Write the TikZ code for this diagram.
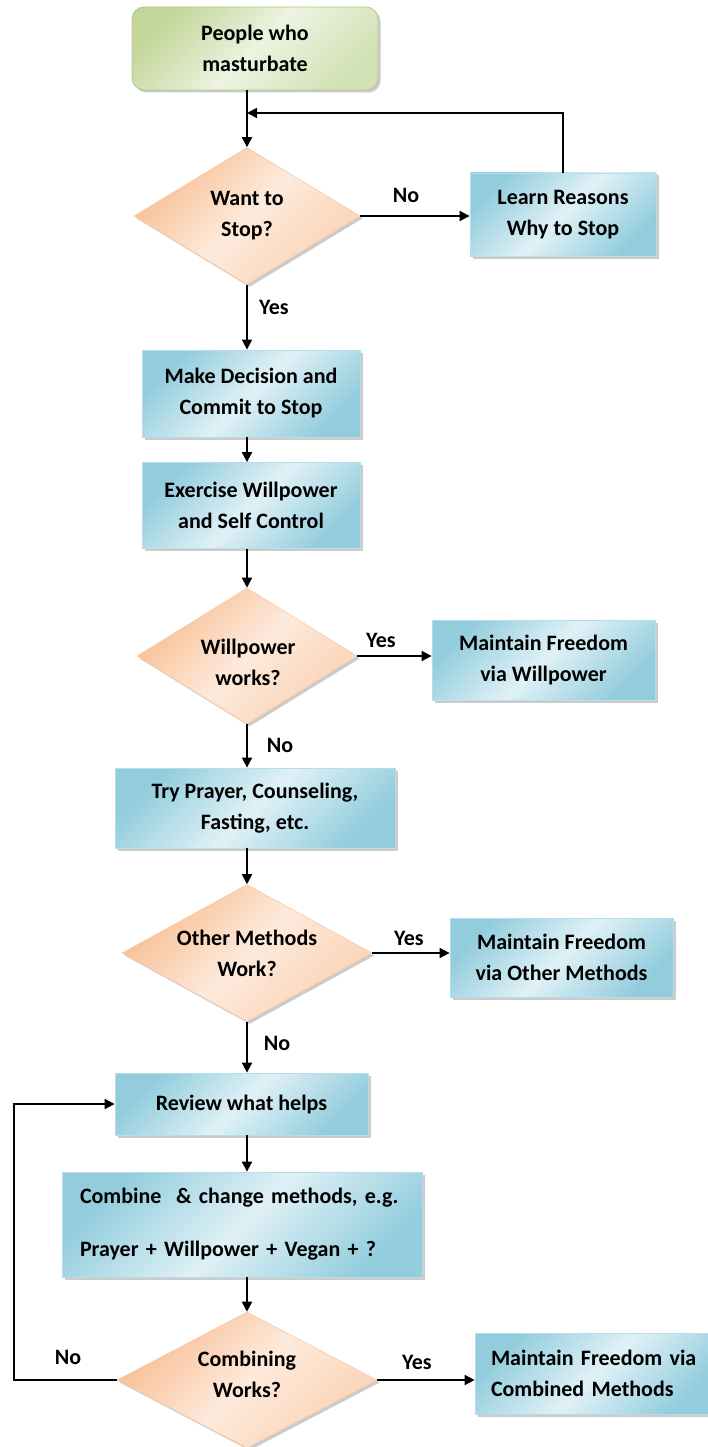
\documentclass[tikz,border=0pt]{standalone}
\usepackage{fontspec}
\setmainfont{Carlito}
\usetikzlibrary{shapes.geometric,arrows.meta,shadows}
\definecolor{bluedark}{HTML}{93CDDD}
\definecolor{bluelight}{HTML}{E0F1F6}
\definecolor{blueedge}{HTML}{B7DEE8}
\definecolor{peachdark}{HTML}{F8BE92}
\definecolor{peachmid}{HTML}{FBD3B5}
\definecolor{peachlight}{HTML}{FDEADC}
\definecolor{peachedge}{HTML}{F9CBA8}
\definecolor{greendark}{HTML}{C3D69B}
\definecolor{greenmid}{HTML}{D3E2B6}
\definecolor{greenlight}{HTML}{EDF3E1}
\definecolor{greenedge}{HTML}{B3C98A}
\begin{document}
\begin{tikzpicture}[x=1pt,y=-1pt,
  every node/.style={font=\fontsize{22}{31}\selectfont\bfseries},
  shadowed/.style={drop shadow={shadow xshift=2.5pt,shadow yshift=-2.5pt,fill=black!45,opacity=0.45}},
  bluebox/.style={shadowed, draw=blueedge, line width=0.8pt, left color=bluedark, right color=bluedark, middle color=bluelight, shading angle=45, inner sep=0pt, align=center},
  startbox/.style={shadowed, draw=greenedge, line width=0.8pt, rounded corners=12pt, left color=greendark, right color=greenmid, middle color=greenlight, shading angle=45, inner sep=0pt, align=center},
  dia/.style={shadowed, shape=diamond, draw=peachedge, line width=0.6pt, left color=peachdark, right color=peachmid, middle color=peachlight, shading angle=45, inner sep=0pt},
  dtext/.style={align=center, inner sep=0pt},
  lbl/.style={inner sep=0pt},
  arr/.style={line width=1.8pt, -{Triangle[length=10pt,width=10pt]}}
]
\useasboundingbox (0,0) rectangle (708,1447);
\fill[white] (0,0) rectangle (708,1447);
\coordinate (col) at (247,0);
\coordinate (lp) at (14,0);
\coordinate (fb) at (247,113);

\node[startbox, minimum width=246pt, minimum height=83pt] (start) at (255,48.5) {People who\\masturbate};

\node[dia, minimum width=226pt, minimum height=137pt] (d1) at (247,216) {};
\node[dtext] (d1t) at (d1) {Want to\\Stop?};

\node[bluebox, minimum width=186pt, minimum height=83pt] (learn) at (563,214.5) {Learn Reasons\\Why to Stop};

\node[bluebox, minimum width=218pt, minimum height=87pt] (make) at (251,393.5) {Make Decision and\\Commit to Stop};
\node[bluebox, minimum width=218pt, minimum height=86pt] (exer) at (251,505.5) {Exercise Willpower\\and Self Control};

\node[dia, minimum width=220pt, minimum height=136pt] (d2) at (247,656) {};
\node[dtext] (d2t) at (248,662) {Willpower\\works?};

\node[bluebox, minimum width=223pt, minimum height=80pt] (mw) at (543.5,660) {Maintain Freedom\\via Willpower};

\node[bluebox, minimum width=280pt, minimum height=80pt] (try) at (255,808) {Try Prayer, Counseling,\\Fasting, etc.};

\node[dia, minimum width=250pt, minimum height=137pt] (d3) at (247,953) {};
\node[dtext] (d3t) at (d3) {Other Methods\\Work?};

\node[bluebox, minimum width=223pt, minimum height=79pt] (mo) at (561.5,957.5) {Maintain Freedom\\via Other Methods};

\node[bluebox, minimum width=253pt, minimum height=62pt] (review) at (241.5,1104) {Review what helps};

\node[bluebox, minimum width=360pt, minimum height=105pt, text width=324pt, align=left] (comb) at (242,1224.5) {Combine~ \& change methods, e.g.\\[22pt]Prayer + Willpower + Vegan + ?};

\node[dia, minimum width=260pt, minimum height=136pt] (d4) at (247,1380) {};
\node[dtext] (d4t) at (247,1374) {Combining\\Works?};

\node[bluebox, minimum width=241pt, minimum height=81pt, text width=209pt, align=left] (mc) at (595.5,1373.5) {Maintain Freedom via\\Combined Methods};

% labels
\node[lbl] (l1) at (406,195) {No};
\node[lbl] (l2) at (274,307) {Yes};
\node[lbl] (l3) at (381,640) {Yes};
\node[lbl] (l4) at (280,745) {No};
\node[lbl] (l5) at (409,938) {Yes};
\node[lbl] (l6) at (277,1043) {No};
\node[lbl] (l7) at (68,1357) {No};
\node[lbl] (l8) at (417,1362) {Yes};

% connectors
\draw[arr] (start.south -| col) -- (d1.north);
\draw[arr] (learn.north) |- (fb);
\draw[arr] (d1.east) -- (learn.west |- d1.east);
\draw[arr] (d1.south) -- (make.north -| d1.south);
\draw[arr] (make.south -| col) -- (exer.north -| col);
\draw[arr] (exer.south -| col) -- (d2.north);
\draw[arr] (d2.east) -- (mw.west |- d2.east);
\draw[arr] (d2.south) -- (try.north -| d2.south);
\draw[arr] (try.south -| col) -- (d3.north);
\draw[arr] (d3.east) -- (mo.west |- d3.east);
\draw[arr] (d3.south) -- (review.north -| d3.south);
\draw[arr] (review.south -| col) -- (comb.north -| col);
\draw[arr] (comb.south -| col) -- (d4.north);
\draw[arr] (d4.east) -- (mc.west |- d4.east);
\draw[arr] (d4.west) -- (d4.west -| lp) |- (review.west);
\end{tikzpicture}
\end{document}
